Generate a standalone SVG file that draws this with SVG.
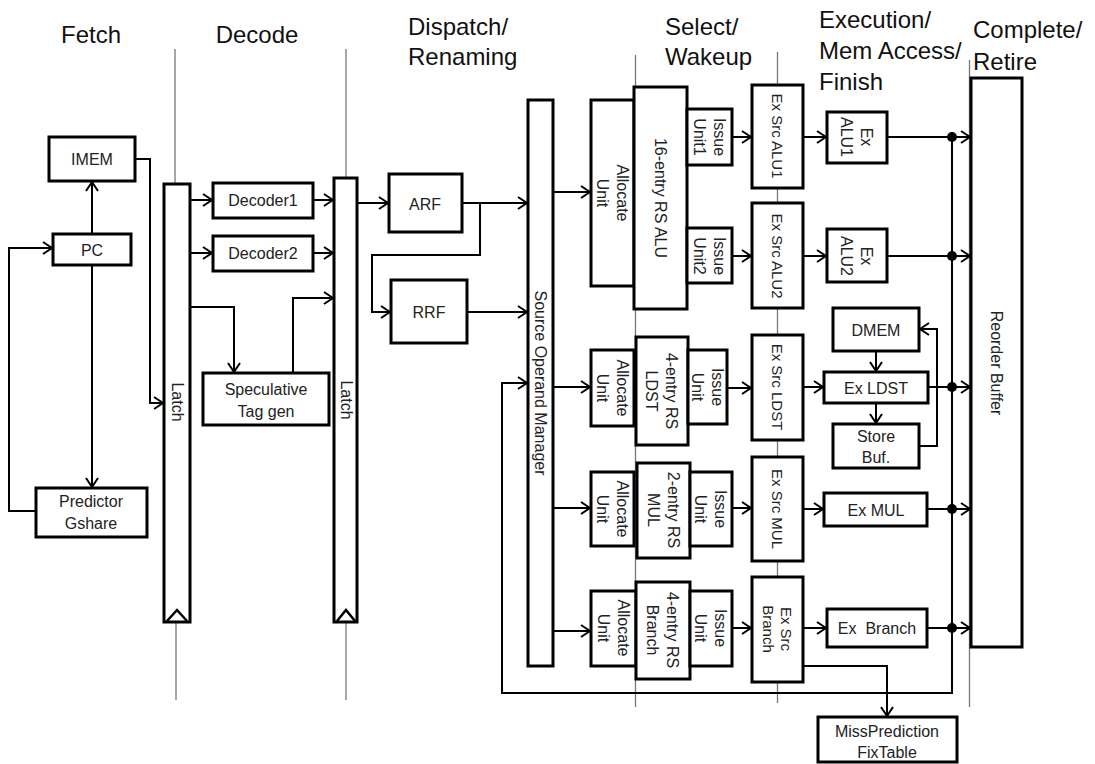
<svg xmlns="http://www.w3.org/2000/svg" width="1095" height="764" viewBox="0 0 1095 764">
<style>
.bx{fill:#fff;stroke:#000;stroke-width:3}
.t{font-family:"Liberation Sans",Arial,sans-serif;font-size:16px;fill:#222;text-anchor:middle;dominant-baseline:central}
.ts{font-size:15px}
.h{font-family:"Liberation Sans",Arial,sans-serif;font-size:24px;fill:#111}
.g{stroke:#777;stroke-width:1.3;fill:none}
.c{fill:none;stroke:#000;stroke-width:2}
.a{marker-end:url(#ar)}
</style>
<defs>
<marker id="ar" markerUnits="userSpaceOnUse" markerWidth="12" markerHeight="14" refX="10" refY="7" orient="auto">
<path d="M1,1 L10,7 L1,13" fill="none" stroke="#000" stroke-width="2"/>
</marker>
</defs>
<rect width="1095" height="764" fill="#fff"/>

<g id="titles">
<text class="h" x="91" y="43" text-anchor="middle">Fetch</text>
<text class="h" x="257" y="43" text-anchor="middle">Decode</text>
<text class="h" x="408" y="35">Dispatch/</text>
<text class="h" x="408" y="65">Renaming</text>
<text class="h" x="665" y="35">Select/</text>
<text class="h" x="665" y="65">Wakeup</text>
<text class="h" x="819" y="28">Execution/</text>
<text class="h" x="819" y="59">Mem Access/</text>
<text class="h" x="819" y="90">Finish</text>
<text class="h" x="973" y="38">Complete/</text>
<text class="h" x="973" y="70">Retire</text>
</g>

<g id="stage-lines">
<path class="g" d="M175,49 V184 M176,622 V700"/>
<path class="g" d="M346,49 V178 M346,622 V700"/>
<path class="g" d="M635.5,55 V707"/>
<path class="g" d="M777.5,52 V703"/>
<path class="g" d="M969.5,60 V707"/>
</g>

<g id="connectors">
<path class="c a" d="M92,234 V182"/>
<path class="c a" d="M92,265 V487"/>
<path class="c a" d="M36,511 H9 V248 H52"/>
<path class="c a" d="M135,159 H150 V403 H163"/>
<path class="c a" d="M190,200 H212"/>
<path class="c a" d="M190,253 H212"/>
<path class="c a" d="M190,307 H234 V372"/>
<path class="c a" d="M313,200 H333"/>
<path class="c a" d="M313,253 H333"/>
<path class="c a" d="M293,373 V298 H333"/>
<path class="c a" d="M357,203 H388"/>
<path class="c a" d="M462,203 H527"/>
<path class="c a" d="M480,203 V255 H372 V312 H390"/>
<path class="c a" d="M467,312 H527"/>
<path class="c a" d="M553,192 H590"/>
<path class="c a" d="M553,387 H590"/>
<path class="c a" d="M553,508 H590"/>
<path class="c a" d="M553,631 H590"/>
<path class="c a" d="M732,137 H751"/>
<path class="c a" d="M732,256 H751"/>
<path class="c a" d="M727,388 H751"/>
<path class="c a" d="M732,508 H751"/>
<path class="c a" d="M732,628 H751"/>
<path class="c a" d="M803,137 H826"/>
<path class="c a" d="M803,256 H826"/>
<path class="c a" d="M803,387 H823"/>
<path class="c a" d="M803,509 H823"/>
<path class="c a" d="M803,628 H826"/>
<path class="c a" d="M887,137 H970"/>
<path class="c a" d="M887,256 H970"/>
<path class="c a" d="M928,387 H970"/>
<path class="c a" d="M927,509 H970"/>
<path class="c a" d="M927,628 H970"/>
<path class="c a" d="M952,137 V693 H502 V383 H527"/>
<path class="c a" d="M876,351 V371"/>
<path class="c a" d="M876,403 V423"/>
<path class="c a" d="M919,446 H937 V329 H920"/>
<path class="c a" d="M803,666 H887 V716"/>
<circle cx="952" cy="137" r="5" fill="#000"/>
<circle cx="952" cy="256" r="5" fill="#000"/>
<circle cx="952" cy="387" r="5" fill="#000"/>
<circle cx="952" cy="509" r="5" fill="#000"/>
<circle cx="952" cy="628" r="5" fill="#000"/>
</g>

<g id="imem"><rect class="bx" x="49" y="137" width="86" height="44"/><text class="t" x="92" y="159">IMEM</text></g>
<g id="pc"><rect class="bx" x="53" y="234" width="78" height="31"/><text class="t" x="92" y="250">PC</text></g>
<g id="predictor"><rect class="bx" x="36" y="488" width="111" height="49"/><text class="t" x="91" y="501">Predictor</text><text class="t" x="91" y="523">Gshare</text></g>

<g id="latch1"><rect class="bx" x="164" y="184" width="26" height="438"/><path d="M167,621 L177,610 L187,621" fill="none" stroke="#000" stroke-width="2.5"/><text class="t" transform="translate(177,402) rotate(90)">Latch</text></g>
<g id="latch2"><rect class="bx" x="334" y="178" width="23" height="444"/><path d="M337,621 L346,610 L355,621" fill="none" stroke="#000" stroke-width="2.5"/><text class="t" transform="translate(346,400) rotate(90)">Latch</text></g>

<g id="decoder1"><rect class="bx" x="213" y="183" width="100" height="35"/><text class="t" x="263" y="200">Decoder1</text></g>
<g id="decoder2"><rect class="bx" x="213" y="236" width="100" height="35"/><text class="t" x="263" y="253">Decoder2</text></g>
<g id="spec"><rect class="bx" x="203" y="373" width="126" height="52"/><text class="t" x="266" y="389">Speculative</text><text class="t" x="266" y="411">Tag gen</text></g>

<g id="arf"><rect class="bx" x="389" y="174" width="73" height="58"/><text class="t" x="425" y="204">ARF</text></g>
<g id="rrf"><rect class="bx" x="391" y="280" width="76" height="63"/><text class="t" x="429" y="312">RRF</text></g>
<g id="som"><rect class="bx" x="528" y="100" width="25" height="566"/><text class="t" transform="translate(540.5,383) rotate(90)">Source Operand Manager</text></g>

<g id="alloc-alu"><rect class="bx" x="591" y="100" width="43" height="186"/><text class="t" transform="translate(612.5,193) rotate(90)"><tspan x="0" y="-10">Allocate</tspan><tspan x="0" y="10">Unit</tspan></text></g>
<g id="rs-alu"><rect class="bx" x="634" y="87" width="53" height="222"/><text class="t" transform="translate(660.5,198) rotate(90)">16-entry RS ALU</text></g>
<g id="issue1"><rect class="bx" x="687" y="109" width="45" height="56"/><text class="t" transform="translate(709.5,137) rotate(90)"><tspan x="0" y="-10">Issue</tspan><tspan x="0" y="10">Unit1</tspan></text></g>
<g id="issue2"><rect class="bx" x="687" y="228" width="45" height="55"/><text class="t" transform="translate(709.5,256) rotate(90)"><tspan x="0" y="-10">Issue</tspan><tspan x="0" y="10">Unit2</tspan></text></g>

<g id="alloc-ldst"><rect class="bx" x="591" y="350" width="43" height="76"/><text class="t" transform="translate(612.5,388) rotate(90)"><tspan x="0" y="-10">Allocate</tspan><tspan x="0" y="10">Unit</tspan></text></g>
<g id="rs-ldst"><rect class="bx" x="636" y="337" width="52" height="108"/><text class="t" transform="translate(662,391) rotate(90)"><tspan x="0" y="-10">4-entry RS</tspan><tspan x="0" y="10">LDST</tspan></text></g>
<g id="issue-ldst"><rect class="bx" x="688" y="350" width="39" height="74"/><text class="t" transform="translate(707.5,387) rotate(90)"><tspan x="0" y="-10">Issue</tspan><tspan x="0" y="10">Unit</tspan></text></g>

<g id="alloc-mul"><rect class="bx" x="591" y="472" width="43" height="74"/><text class="t" transform="translate(612.5,509) rotate(90)"><tspan x="0" y="-10">Allocate</tspan><tspan x="0" y="10">Unit</tspan></text></g>
<g id="rs-mul"><rect class="bx" x="637" y="463" width="53" height="95"/><text class="t" transform="translate(663.5,510) rotate(90)"><tspan x="0" y="-10">2-entry RS</tspan><tspan x="0" y="10">MUL</tspan></text></g>
<g id="issue-mul"><rect class="bx" x="690" y="472" width="42" height="74"/><text class="t" transform="translate(711,509) rotate(90)"><tspan x="0" y="-10">Issue</tspan><tspan x="0" y="10">Unit</tspan></text></g>

<g id="alloc-br"><rect class="bx" x="591" y="591" width="45" height="75"/><text class="t" transform="translate(613.5,628) rotate(90)"><tspan x="0" y="-10">Allocate</tspan><tspan x="0" y="10">Unit</tspan></text></g>
<g id="rs-br"><rect class="bx" x="636" y="582" width="54" height="97"/><text class="t" transform="translate(663,630) rotate(90)"><tspan x="0" y="-10">4-entry RS</tspan><tspan x="0" y="10">Branch</tspan></text></g>
<g id="issue-br"><rect class="bx" x="690" y="591" width="42" height="75"/><text class="t" transform="translate(711,628) rotate(90)"><tspan x="0" y="-10">Issue</tspan><tspan x="0" y="10">Unit</tspan></text></g>

<g id="exsrc-alu1"><rect class="bx" x="752" y="85" width="51" height="103"/><text class="t ts" transform="translate(777.5,136) rotate(90)">Ex Src ALU1</text></g>
<g id="exsrc-alu2"><rect class="bx" x="752" y="203" width="51" height="105"/><text class="t ts" transform="translate(777.5,256) rotate(90)">Ex Src ALU2</text></g>
<g id="exsrc-ldst"><rect class="bx" x="752" y="335" width="51" height="105"/><text class="t ts" transform="translate(777.5,387) rotate(90)">Ex Src LDST</text></g>
<g id="exsrc-mul"><rect class="bx" x="752" y="457" width="51" height="104"/><text class="t ts" transform="translate(777.5,509) rotate(90)">Ex Src MUL</text></g>
<g id="exsrc-br"><rect class="bx" x="752" y="577" width="51" height="105"/><text class="t ts" transform="translate(777.5,629) rotate(90)"><tspan x="0" y="-9">Ex Src</tspan><tspan x="0" y="9">Branch</tspan></text></g>

<g id="ex-alu1"><rect class="bx" x="827" y="112" width="60" height="51"/><text class="t" transform="translate(857,137) rotate(90)"><tspan x="0" y="-10">Ex</tspan><tspan x="0" y="10">ALU1</tspan></text></g>
<g id="ex-alu2"><rect class="bx" x="827" y="229" width="60" height="53"/><text class="t" transform="translate(857,256) rotate(90)"><tspan x="0" y="-10">Ex</tspan><tspan x="0" y="10">ALU2</tspan></text></g>
<g id="dmem"><rect class="bx" x="833" y="308" width="86" height="43"/><text class="t" x="876" y="330">DMEM</text></g>
<g id="ex-ldst"><rect class="bx" x="824" y="372" width="104" height="31"/><text class="t" x="876" y="388">Ex LDST</text></g>
<g id="storebuf"><rect class="bx" x="833" y="424" width="86" height="44"/><text class="t" x="876" y="436">Store</text><text class="t" x="876" y="457">Buf.</text></g>
<g id="ex-mul"><rect class="bx" x="824" y="493" width="103" height="33"/><text class="t" x="876" y="510">Ex MUL</text></g>
<g id="ex-br"><rect class="bx" x="827" y="609" width="100" height="38"/><text class="t" x="877" y="628" xml:space="preserve">Ex  Branch</text></g>
<g id="misspred"><rect class="bx" x="818" y="717" width="139" height="45"/><text class="t" x="887" y="731">MissPrediction</text><text class="t" x="887" y="752">FixTable</text></g>

<g id="rob"><rect class="bx" x="971" y="78" width="51" height="569"/><text class="t" transform="translate(996,363) rotate(90)">Reorder Buffer</text></g>
</svg>
